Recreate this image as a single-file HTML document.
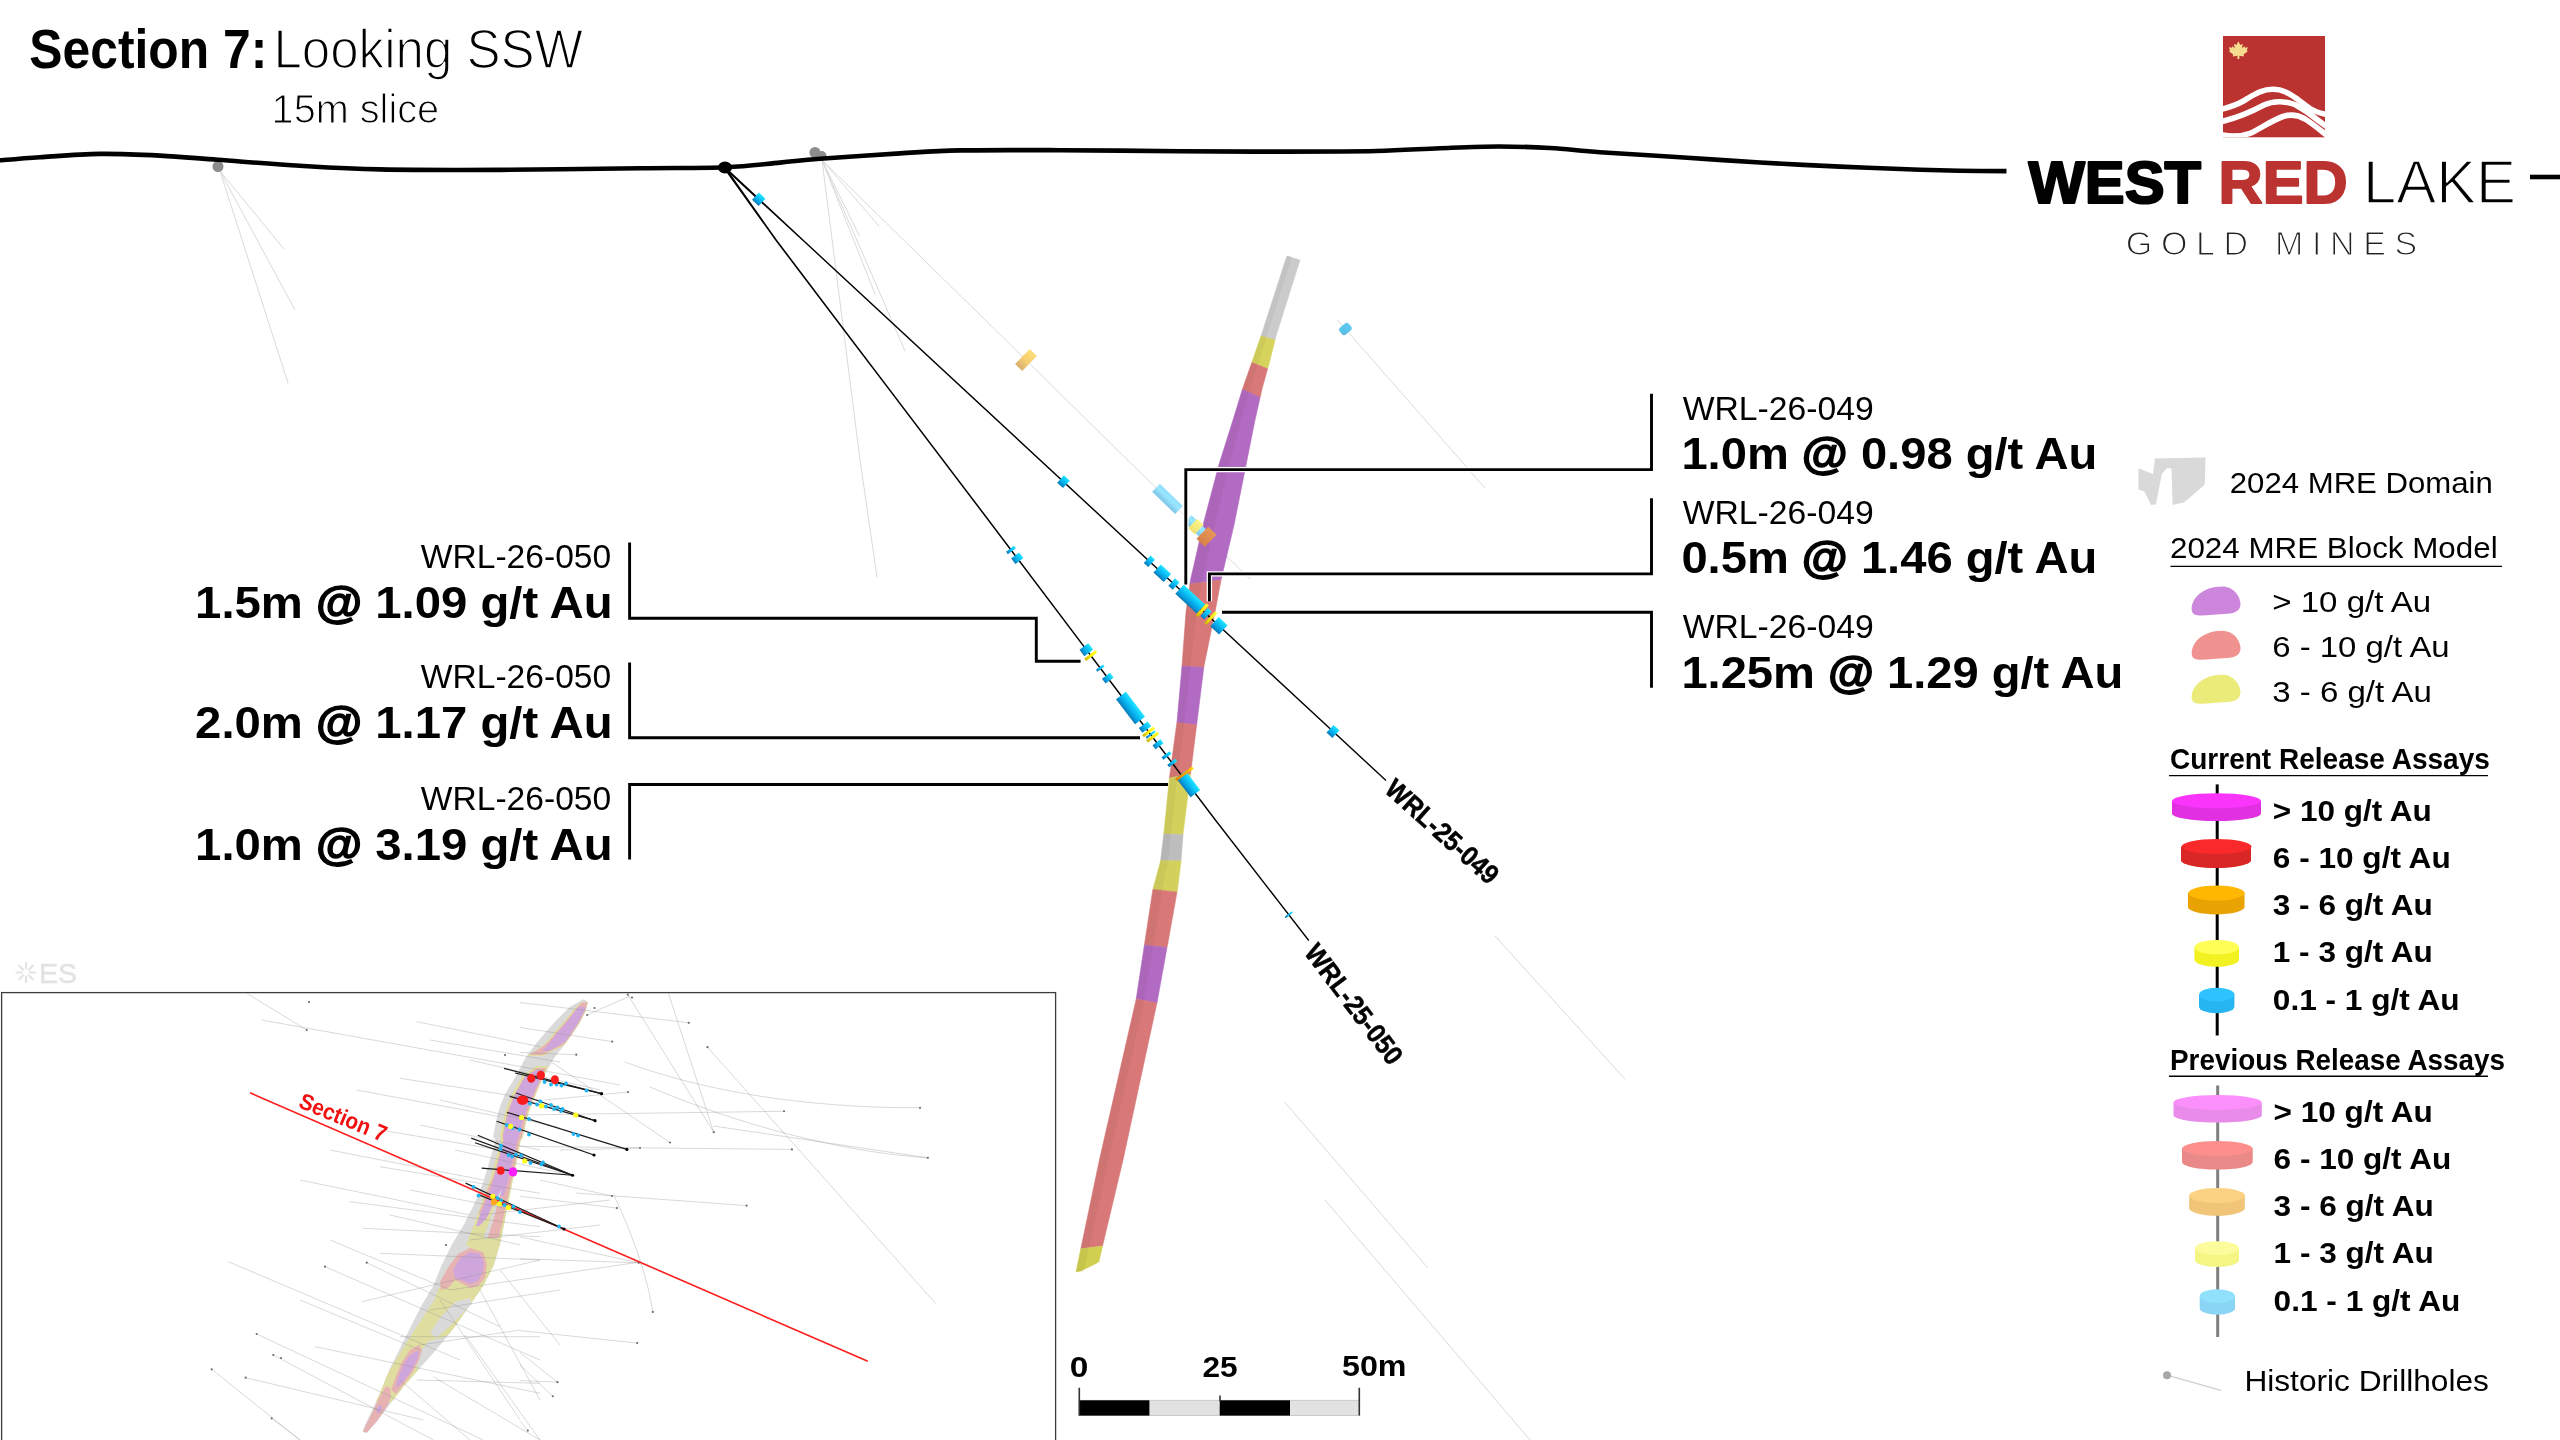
<!DOCTYPE html>
<html><head><meta charset="utf-8"><title>Section 7</title>
<style>html,body{margin:0;padding:0;background:#fff;overflow:hidden}svg{display:block;font-family:'Liberation Sans',sans-serif}</style></head><body>
<svg width="2560" height="1440" viewBox="0 0 2560 1440">
<defs>
<linearGradient id="g_blue" x1="0" y1="0" x2="0" y2="1"><stop offset="0" stop-color="#24e4ff"/><stop offset="0.35" stop-color="#0cc6f9"/><stop offset="0.7" stop-color="#06a2e2"/><stop offset="1" stop-color="#0878b6"/></linearGradient>
<linearGradient id="g_yellow" x1="0" y1="0" x2="0" y2="1"><stop offset="0" stop-color="#ffff30"/><stop offset="0.5" stop-color="#fff000"/><stop offset="1" stop-color="#c8b400"/></linearGradient>
<linearGradient id="g_orange" x1="0" y1="0" x2="0" y2="1"><stop offset="0" stop-color="#ffe000"/><stop offset="0.25" stop-color="#ffb000"/><stop offset="1" stop-color="#e08000"/></linearGradient>
<linearGradient id="g_pblue" x1="0" y1="0" x2="0" y2="1"><stop offset="0" stop-color="#8fe0fb"/><stop offset="0.4" stop-color="#9ae6ff"/><stop offset="1" stop-color="#7cc4e6"/></linearGradient>
<linearGradient id="g_pblue2" x1="0" y1="0" x2="1" y2="1"><stop offset="0" stop-color="#62ccf2"/><stop offset="0.7" stop-color="#58c2ec"/><stop offset="1" stop-color="#6aa8c4"/></linearGradient>
<linearGradient id="g_pyellow" x1="0" y1="0" x2="0" y2="1"><stop offset="0" stop-color="#fbf58a"/><stop offset="1" stop-color="#f0e070"/></linearGradient>
<linearGradient id="g_porange" x1="0" y1="0" x2="0" y2="1"><stop offset="0" stop-color="#e89858"/><stop offset="1" stop-color="#d88048"/></linearGradient>
<linearGradient id="g_pgold" x1="0" y1="0" x2="0" y2="1"><stop offset="0" stop-color="#fbe07a"/><stop offset="0.5" stop-color="#f6cf70"/><stop offset="1" stop-color="#d8b070"/></linearGradient>
<clipPath id="logoclip"><rect x="2223" y="36" width="102" height="101.3"/></clipPath>
<clipPath id="insetclip"><rect x="2" y="993" width="1053" height="447"/></clipPath>
</defs>
<rect width="2560" height="1440" fill="#fff"/>
<g style="opacity:0.9999">
<g id="historic" stroke="#d8d8d8" stroke-width="0.95" fill="none" stroke-linecap="round">
<path d="M220 171L284 249"/>
<path d="M220 171L295 310"/>
<path d="M220 171L288 383"/>
<path d="M822 160L879 226"/>
<path d="M822 160L859.5 236"/>
<path d="M822 160L875 294"/>
<path d="M822 160L905 351"/>
<path d="M822 160L860 460"/>
<path d="M860 460L877 577"/>
<path d="M822 160L1026 360"/>
<path d="M1026 360L1127.5 460"/>
<path d="M1127.5 460L1250 579"/>
<path d="M1337.5 320L1485 488"/>
<path d="M1495 936L1625 1079"/>
<path d="M1285 1102.5L1427.5 1267.5"/>
<path d="M1325 1200L1530 1440"/>
</g>
<circle cx="218" cy="166.5" r="5.5" fill="#8c8c8c"/>
<circle cx="815" cy="152.5" r="5.5" fill="#8c8c8c"/><circle cx="821.5" cy="156" r="5" fill="#8c8c8c"/>
<path id="surface" d="M-4 160.6 C3.3 160.03,22.7 158.32,40 157.2 C57.3 156.08,80.0 154.17,100 153.9 C120.0 153.63,140.3 154.62,160 155.6 C179.7 156.58,194.7 158.10,218 159.8 C241.3 161.50,273.0 164.20,300 165.8 C327.0 167.40,346.7 168.72,380 169.4 C413.3 170.08,456.7 170.10,500 169.9 C543.3 169.70,602.5 168.65,640 168.2 C677.5 167.75,701.7 168.13,725 167.2 C748.3 166.27,764.2 164.00,780 162.6 C795.8 161.20,800.0 160.33,820 158.8 C840.0 157.27,876.7 154.80,900 153.4 C923.3 152.00,933.3 150.93,960 150.4 C986.7 149.87,1023.3 150.07,1060 150.2 C1096.7 150.33,1143.3 150.97,1180 151.2 C1216.7 151.43,1247.3 151.63,1280 151.6 C1312.7 151.57,1349.3 151.57,1376 151 C1402.7 150.43,1419.7 148.95,1440 148.2 C1460.3 147.45,1479.7 146.53,1498 146.5 C1516.3 146.47,1533.0 147.05,1550 148 C1567.0 148.95,1578.3 150.67,1600 152.2 C1621.7 153.73,1653.3 155.48,1680 157.2 C1706.7 158.92,1733.3 160.93,1760 162.5 C1786.7 164.07,1813.3 165.38,1840 166.6 C1866.7 167.82,1900.0 169.10,1920 169.8 C1940.0 170.50,1945.6 170.58,1960 170.8 C1974.4 171.02,1998.8 171.05,2006.5 171.1" fill="none" stroke="#000" stroke-width="4.6" stroke-linecap="butt"/>
<path d="M2530 177 L2562 177" stroke="#000" stroke-width="4.6"/>
<g id="orebody">
<polygon fill="#cbcbcb" stroke="#cbcbcb" stroke-width="0.6" stroke-linejoin="round" points="1287.0,256.0 1300.0,260.0 1276.0,336.0 1275.0,340.0 1261.0,336.0 1285.5,260.0"/>
<polygon fill="#d5d35c" stroke="#d5d35c" stroke-width="0.6" stroke-linejoin="round" points="1261.0,336.0 1275.0,340.0 1269.5,362.0 1267.6,368.8 1251.8,362.5 1252.0,362.0"/>
<polygon fill="#d97878" stroke="#d97878" stroke-width="0.6" stroke-linejoin="round" points="1251.8,362.5 1267.6,368.8 1262.0,389.0 1260.1,397.5 1242.4,389.4 1242.5,389.0"/>
<polygon fill="#b26bc2" stroke="#b26bc2" stroke-width="0.6" stroke-linejoin="round" points="1242.4,389.4 1260.1,397.5 1255.0,420.0 1246.0,465.0 1234.0,525.0 1221.0,580.0 1189.9,584.0 1190.5,580.0 1203.0,525.0 1218.8,465.0 1233.0,420.0"/>
<polygon fill="#d97878" stroke="#d97878" stroke-width="0.6" stroke-linejoin="round" points="1189.9,584.0 1221.0,580.0 1215.0,612.0 1204.0,666.0 1203.8,667.5 1182.0,666.0 1186.0,612.0"/>
<polygon fill="#b26bc2" stroke="#b26bc2" stroke-width="0.6" stroke-linejoin="round" points="1182.0,666.0 1203.8,667.5 1197.0,722.0 1196.6,725.0 1176.9,722.5 1177.0,722.0"/>
<polygon fill="#d97878" stroke="#d97878" stroke-width="0.6" stroke-linejoin="round" points="1176.9,722.5 1196.6,725.0 1190.5,774.0 1169.4,778.0"/>
<polygon fill="#d3d15c" stroke="#d3d15c" stroke-width="0.6" stroke-linejoin="round" points="1169.4,778.0 1190.5,774.0 1190.0,778.0 1183.0,834.0 1183.0,834.5 1163.8,834.0"/>
<polygon fill="#bdbdbd" stroke="#bdbdbd" stroke-width="0.6" stroke-linejoin="round" points="1163.8,834.0 1183.0,834.5 1181.0,861.0 1160.6,860.6"/>
<polygon fill="#d3d15c" stroke="#d3d15c" stroke-width="0.6" stroke-linejoin="round" points="1160.6,860.6 1181.0,861.0 1177.5,889.0 1177.0,892.0 1152.9,889.4 1153.0,889.0 1160.6,861.0"/>
<polygon fill="#d97878" stroke="#d97878" stroke-width="0.6" stroke-linejoin="round" points="1152.9,889.4 1177.0,892.0 1167.5,945.0 1167.0,947.5 1144.4,945.0"/>
<polygon fill="#b26bc2" stroke="#b26bc2" stroke-width="0.6" stroke-linejoin="round" points="1144.4,945.0 1167.0,947.5 1157.5,1000.0 1156.9,1003.0 1136.2,999.0"/>
<polygon fill="#d97878" stroke="#d97878" stroke-width="0.6" stroke-linejoin="round" points="1136.2,999.0 1156.9,1003.0 1123.0,1160.0 1102.5,1246.0 1080.8,1248.8 1081.0,1248.0 1099.4,1160.0 1136.0,1000.0"/>
<polygon fill="#d0cf50" stroke="#d0cf50" stroke-width="0.6" stroke-linejoin="round" points="1080.8,1248.8 1102.5,1246.0 1098.8,1262.0 1081.0,1271.0 1076.0,1272.0"/>
<polygon fill="#000" opacity="0.04" points="1287.0,256.0 1285.5,260.0 1261.0,336.0 1252.0,362.0 1242.5,389.0 1233.0,420.0 1218.8,465.0 1203.0,525.0 1190.5,580.0 1186.0,612.0 1182.0,666.0 1177.0,722.0 1169.4,778.0 1163.8,834.0 1160.6,861.0 1153.0,889.0 1144.4,945.0 1136.0,1000.0 1099.4,1160.0 1081.0,1248.0 1076.0,1272.0 1081.0,1271.0 1083.6,1272.0 1089.0,1248.0 1108.4,1160.0 1144.2,1000.0 1153.2,945.0 1162.3,889.0 1168.4,861.0 1171.1,834.0 1177.2,778.0 1184.6,722.0 1190.4,666.0 1197.0,612.0 1202.1,580.0 1214.8,525.0 1229.1,465.0 1241.4,420.0 1249.9,389.0 1258.7,362.0 1266.7,336.0 1291.0,260.0 1291.2,256.0"/>
</g>
<rect x="-5.00" y="-10.50" width="10" height="21" rx="0" fill="url(#g_pgold)" opacity="1" transform="translate(1026.00,360.00) rotate(44.43)"/>
<rect x="-16.00" y="-5.50" width="32" height="11" rx="0" fill="url(#g_pblue)" opacity="1" transform="translate(1167.50,498.86) rotate(44.17)"/>
<rect x="-3.50" y="-5.00" width="7" height="10" rx="0" fill="url(#g_pblue)" opacity="1" transform="translate(1190.50,521.20) rotate(44.17)"/>
<rect x="-4.50" y="-6.50" width="9" height="13" rx="0" fill="url(#g_pyellow)" opacity="1" transform="translate(1196.00,526.54) rotate(44.17)"/>
<rect x="-2.50" y="-5.00" width="5" height="10" rx="0" fill="url(#g_pblue)" opacity="1" transform="translate(1201.00,531.40) rotate(44.17)"/>
<rect x="-5.75" y="-8.50" width="11.5" height="17" rx="0" fill="url(#g_porange)" opacity="1" transform="translate(1206.50,536.74) rotate(44.17)"/>
<rect x="-4.50" y="-6.00" width="9" height="12" rx="3" fill="url(#g_pblue2)" opacity="1" transform="translate(1345.40,329.00) rotate(48.72)"/>
<g id="holes">
<polygon fill="#000" points="723.72,168.34 764.20,205.58 804.68,242.82 1385.52,781.11 1386.48,780.09 805.69,241.72 765.49,204.19 725.28,166.66"/>
<polygon fill="#000" points="723.56,168.17 775.33,240.49 849.41,338.15 987.42,519.94 1093.18,659.93 1214.44,819.93 1308.20,940.93 1309.30,940.07 1215.56,819.07 1094.32,659.07 988.58,519.06 850.59,337.25 776.67,239.51 725.44,166.83"/>
</g>
<ellipse cx="725" cy="167.5" rx="7" ry="6" fill="#000"/>
<rect x="-4.50" y="-5.00" width="9" height="10" rx="0" fill="url(#g_blue)" opacity="1" transform="translate(758.75,199.24) rotate(42.83)"/>
<rect x="-4.00" y="-5.00" width="8" height="10" rx="0" fill="url(#g_blue)" opacity="1" transform="translate(1063.50,481.70) rotate(42.83)"/>
<rect x="-3.00" y="-5.00" width="6" height="10" rx="0" fill="url(#g_blue)" opacity="1" transform="translate(1149.40,561.31) rotate(42.83)"/>
<rect x="-7.00" y="-5.50" width="14" height="11" rx="0" fill="url(#g_blue)" opacity="1" transform="translate(1162.30,573.27) rotate(42.83)"/>
<rect x="-3.00" y="-5.00" width="6" height="10" rx="0" fill="url(#g_blue)" opacity="1" transform="translate(1173.90,584.02) rotate(42.83)"/>
<rect x="-14.50" y="-6.25" width="29" height="12.5" rx="0" fill="url(#g_blue)" opacity="1" transform="translate(1190.20,599.13) rotate(42.83)"/>
<rect x="-1.50" y="-8.00" width="3" height="16" rx="0" fill="url(#g_yellow)" opacity="1" transform="translate(1202.20,610.25) rotate(42.83)"/>
<rect x="-2.50" y="-5.50" width="5" height="11" rx="0" fill="url(#g_blue)" opacity="1" transform="translate(1206.00,613.77) rotate(42.83)"/>
<rect x="-1.50" y="-8.00" width="3" height="16" rx="0" fill="url(#g_yellow)" opacity="1" transform="translate(1210.80,618.22) rotate(42.83)"/>
<rect x="-6.00" y="-6.25" width="12" height="12.5" rx="0" fill="url(#g_blue)" opacity="1" transform="translate(1218.90,625.73) rotate(42.83)"/>
<rect x="-4.00" y="-5.25" width="8" height="10.5" rx="0" fill="url(#g_blue)" opacity="1" transform="translate(1333.00,731.48) rotate(42.83)"/>
<rect x="-1.50" y="-5.00" width="3" height="10" rx="0" fill="url(#g_blue)" opacity="1" transform="translate(1011.00,549.95) rotate(52.93)"/>
<rect x="-3.50" y="-5.00" width="7" height="10" rx="0" fill="url(#g_blue)" opacity="1" transform="translate(1017.30,558.29) rotate(52.93)"/>
<rect x="-4.00" y="-5.50" width="8" height="11" rx="0" fill="url(#g_blue)" opacity="1" transform="translate(1086.30,649.64) rotate(52.93)"/>
<rect x="-1.50" y="-7.00" width="3" height="14" rx="0" fill="url(#g_yellow)" opacity="1" transform="translate(1090.80,655.59) rotate(52.93)"/>
<rect x="-1.25" y="-4.50" width="2.5" height="9" rx="0" fill="url(#g_blue)" opacity="1" transform="translate(1100.30,668.14) rotate(52.84)"/>
<rect x="-3.00" y="-5.00" width="6" height="10" rx="0" fill="url(#g_blue)" opacity="1" transform="translate(1107.80,678.04) rotate(52.84)"/>
<rect x="-15.75" y="-6.25" width="31.5" height="12.5" rx="0" fill="url(#g_blue)" opacity="1" transform="translate(1130.50,707.99) rotate(52.84)"/>
<rect x="-3.00" y="-5.50" width="6" height="11" rx="0" fill="url(#g_blue)" opacity="1" transform="translate(1145.00,727.13) rotate(52.84)"/>
<rect x="-1.50" y="-7.00" width="3" height="14" rx="0" fill="url(#g_yellow)" opacity="1" transform="translate(1148.60,731.88) rotate(52.84)"/>
<rect x="-1.00" y="-5.50" width="2" height="11" rx="0" fill="url(#g_blue)" opacity="1" transform="translate(1150.60,734.52) rotate(52.84)"/>
<rect x="-1.50" y="-7.00" width="3" height="14" rx="0" fill="url(#g_yellow)" opacity="1" transform="translate(1152.60,737.16) rotate(52.84)"/>
<rect x="-2.50" y="-5.00" width="5" height="10" rx="0" fill="url(#g_blue)" opacity="1" transform="translate(1158.00,744.28) rotate(52.84)"/>
<rect x="-1.60" y="-5.00" width="3.2" height="10" rx="0" fill="url(#g_blue)" opacity="1" transform="translate(1166.50,755.50) rotate(52.84)"/>
<rect x="-1.60" y="-5.00" width="3.2" height="10" rx="0" fill="url(#g_blue)" opacity="1" transform="translate(1172.20,763.02) rotate(52.84)"/>
<rect x="-1.00" y="-5.00" width="2" height="10" rx="0" fill="url(#g_blue)" opacity="1" transform="translate(1181.50,775.29) rotate(52.84)"/>
<rect x="-12.00" y="-6.00" width="24" height="12" rx="0" fill="url(#g_blue)" opacity="1" transform="translate(1188.20,784.14) rotate(52.84)"/>
<rect x="-0.90" y="-4.50" width="1.8" height="9" rx="0" fill="url(#g_blue)" opacity="1" transform="translate(1288.75,914.69) rotate(52.23)"/>
<rect x="-1.4" y="-10.5" width="2.8" height="21" fill="url(#g_orange)" transform="translate(1184.5,773.75) rotate(53.5)"/>
<g id="callouts" fill="none" stroke-linejoin="miter" stroke-linecap="butt">
<path d="M1651.5 393.8 V469.6 H1185.8 V584.5" stroke="#fff" stroke-width="5.4"/>
<path d="M1651.5 498.2 V573.9 H1209.4 V601.2" stroke="#fff" stroke-width="5.4"/>
<path d="M1651.5 687.8 V612.3 H1222" stroke="#fff" stroke-width="5.4"/>
<path d="M629.6 542.5 V618.3 H1036.3 V661.3 H1080.6" stroke="#fff" stroke-width="5.4"/>
<path d="M629.6 662.5 V737.8 H1140" stroke="#fff" stroke-width="5.4"/>
<path d="M629.6 859.4 V784.5 H1168" stroke="#fff" stroke-width="5.4"/>
<path d="M1651.5 393.8 V469.6 H1185.8 V584.5" stroke="#000" stroke-width="2.9"/>
<path d="M1651.5 498.2 V573.9 H1209.4 V601.2" stroke="#000" stroke-width="2.9"/>
<path d="M1651.5 687.8 V612.3 H1222" stroke="#000" stroke-width="2.9"/>
<path d="M629.6 542.5 V618.3 H1036.3 V661.3 H1080.6" stroke="#000" stroke-width="2.9"/>
<path d="M629.6 662.5 V737.8 H1140" stroke="#000" stroke-width="2.9"/>
<path d="M629.6 859.4 V784.5 H1168" stroke="#000" stroke-width="2.9"/>
</g>
<text x="611.2" y="568.4" font-size="33" font-weight="normal" fill="#000" text-anchor="end" textLength="190.4" lengthAdjust="spacingAndGlyphs" >WRL-26-050</text>
<text x="612.6" y="617.9" font-size="45" font-weight="bold" fill="#000" text-anchor="end" textLength="417.5" lengthAdjust="spacingAndGlyphs" >1.5m <tspan stroke="#000" stroke-width="1.5">@</tspan> 1.09 g/t Au</text>
<text x="611.2" y="687.8" font-size="33" font-weight="normal" fill="#000" text-anchor="end" textLength="190.4" lengthAdjust="spacingAndGlyphs" >WRL-26-050</text>
<text x="612.6" y="737.5" font-size="45" font-weight="bold" fill="#000" text-anchor="end" textLength="417.5" lengthAdjust="spacingAndGlyphs" >2.0m <tspan stroke="#000" stroke-width="1.5">@</tspan> 1.17 g/t Au</text>
<text x="611.2" y="810.2" font-size="33" font-weight="normal" fill="#000" text-anchor="end" textLength="190.4" lengthAdjust="spacingAndGlyphs" >WRL-26-050</text>
<text x="612.6" y="859.7" font-size="45" font-weight="bold" fill="#000" text-anchor="end" textLength="417.5" lengthAdjust="spacingAndGlyphs" >1.0m <tspan stroke="#000" stroke-width="1.5">@</tspan> 3.19 g/t Au</text>
<text x="1682.7" y="420.4" font-size="33" font-weight="normal" fill="#000" text-anchor="start" textLength="191" lengthAdjust="spacingAndGlyphs" >WRL-26-049</text>
<text x="1681.4" y="468.9" font-size="45" font-weight="bold" fill="#000" text-anchor="start" textLength="416" lengthAdjust="spacingAndGlyphs" >1.0m <tspan stroke="#000" stroke-width="1.5">@</tspan> 0.98 g/t Au</text>
<text x="1682.7" y="524.4" font-size="33" font-weight="normal" fill="#000" text-anchor="start" textLength="191" lengthAdjust="spacingAndGlyphs" >WRL-26-049</text>
<text x="1681.4" y="573.3" font-size="45" font-weight="bold" fill="#000" text-anchor="start" textLength="416" lengthAdjust="spacingAndGlyphs" >0.5m <tspan stroke="#000" stroke-width="1.5">@</tspan> 1.46 g/t Au</text>
<text x="1682.7" y="638.4" font-size="33" font-weight="normal" fill="#000" text-anchor="start" textLength="191" lengthAdjust="spacingAndGlyphs" >WRL-26-049</text>
<text x="1681.4" y="688.4" font-size="45" font-weight="bold" fill="#000" text-anchor="start" textLength="442" lengthAdjust="spacingAndGlyphs" >1.25m <tspan stroke="#000" stroke-width="1.5">@</tspan> 1.29 g/t Au</text>
<text font-size="27.2" font-weight="bold" stroke="#000" stroke-width="0.5" textLength="141.5" lengthAdjust="spacingAndGlyphs" transform="translate(1383.3,791.3) rotate(41.9)">WRL-25-049</text>
<text font-size="27.2" font-weight="bold" stroke="#000" stroke-width="0.5" textLength="143" lengthAdjust="spacingAndGlyphs" transform="translate(1303.3,952.8) rotate(52.8)">WRL-25-050</text>
<text x="29.3" y="67.5" font-size="56" font-weight="bold" fill="#000" text-anchor="start" textLength="238" lengthAdjust="spacingAndGlyphs" >Section 7:</text>
<text x="273.4" y="67.5" font-size="56" font-weight="normal" fill="#000" text-anchor="start" textLength="309.5" lengthAdjust="spacingAndGlyphs" stroke="#fff" stroke-width="1.6" stroke-linejoin="round" >Looking SSW</text>
<text x="271.6" y="123.4" font-size="41.5" font-weight="normal" fill="#000" text-anchor="start" textLength="167.5" lengthAdjust="spacingAndGlyphs" stroke="#fff" stroke-width="1.1" stroke-linejoin="round" >15m slice</text>
<g id="logo">
<rect x="2223" y="36" width="102" height="101.3" fill="#bb3330"/>
<g clip-path="url(#logoclip)"><g fill="none" stroke="#fff" stroke-width="5.6" transform="translate(2223,36)">
<path d="M-3 73.6 C 8 71, 16 67.5, 20.4 65 C 27 61, 32 58, 37 55.8 C 42 53.8, 46 53.2, 50.4 53.3 C 55 53.4, 59 54.4, 62 55.8 C 67 58, 71 60.8, 74.6 63.3 C 79 66.5, 83 69.8, 87 72.5 C 92 75.7, 97 77.5, 106 79"/>
<path d="M-3 86 C 14 82, 28 76, 41 69 C 50 65, 62 64.5, 72 68.5 C 82 74, 90 80, 96 85 C 100 88, 103 90, 106 92"/>
<path d="M-3 98.5 C 6 100.5, 16 101.5, 28 97 C 38 92, 50 84, 60 80.5 C 68 78, 76 79.5, 82 83 C 90 88, 97 94, 106 101"/>
</g></g>
<path fill="#f6dc8e" transform="translate(2238.4,50.8) scale(0.95)" d="M0 -10 L2 -6.2 L4.6 -7.4 L3.8 -2.6 L6.4 -4.8 L7 -3.2 L10 -3.8 L8.8 -0.4 L10 0.4 L5.4 4 L6 6 L1 5.2 L1 8.6 L-1 8.6 L-1 5.2 L-6 6 L-5.4 4 L-10 0.4 L-8.8 -0.4 L-10 -3.8 L-7 -3.2 L-6.4 -4.8 L-3.8 -2.6 L-4.6 -7.4 L-2 -6.2 Z"/>
<text x="2028.5" y="203.3" font-size="59.4" font-weight="bold" fill="#000" text-anchor="start" textLength="172.5" lengthAdjust="spacingAndGlyphs" stroke="#000" stroke-width="2.2" stroke-linejoin="round">WEST</text>
<text x="2218.6" y="203.3" font-size="59.4" font-weight="bold" fill="#bb3330" text-anchor="start" textLength="129" lengthAdjust="spacingAndGlyphs" stroke="#bb3330" stroke-width="2" stroke-linejoin="round">RED</text>
<text x="2363" y="203.3" font-size="60.5" font-weight="normal" fill="#000" text-anchor="start" textLength="153" lengthAdjust="spacingAndGlyphs" stroke="#fff" stroke-width="1.6" stroke-linejoin="round" >LAKE</text>
<text x="2125.8" y="254.6" font-size="34" fill="#222" textLength="291.5" lengthAdjust="spacing" stroke="#fff" stroke-width="1.2">GOLD MINES</text>
</g>
<g id="legend">
<polygon fill="#d9d9d9" points="2138.5,468.2 2153,474 2155,458.5 2205.6,457.5 2204.6,484.7 2195.8,492.5 2184.2,502.2 2172.5,505.1 2171.5,468.2 2166.7,468.2 2161.8,474 2156,504.2 2151.1,505.1 2144.3,491.5 2138.5,489.6"/>
<text x="2229.8" y="493.2" font-size="30.4" font-weight="normal" fill="#000" text-anchor="start" textLength="263" lengthAdjust="spacingAndGlyphs" >2024 MRE Domain</text>
<text x="2170" y="557.6" font-size="30.4" font-weight="normal" fill="#000" text-anchor="start" textLength="327.6" lengthAdjust="spacingAndGlyphs" >2024 MRE Block Model</text>
<path d="M2170.5 566.4 H2502" stroke="#000" stroke-width="1.4"/>
<path fill="#cc87dd" transform="translate(2216.2,601)" d="M-24.5 8.5 C -25 -2, -14 -14.5, 6 -14.5 C 18 -14.5, 24.5 -4, 24.3 3.5 C 24 9.5, 19 12.5, 11 12.8 C 0 13.4, -10 14.8, -17 14.5 C -22 14.3, -24.4 12, -24.5 8.5 Z"/>
<path fill="#f09390" transform="translate(2216.2,645.3)" d="M-24.5 8.5 C -25 -2, -14 -14.5, 6 -14.5 C 18 -14.5, 24.5 -4, 24.3 3.5 C 24 9.5, 19 12.5, 11 12.8 C 0 13.4, -10 14.8, -17 14.5 C -22 14.3, -24.4 12, -24.5 8.5 Z"/>
<path fill="#ebeb7a" transform="translate(2216.2,689.3)" d="M-24.5 8.5 C -25 -2, -14 -14.5, 6 -14.5 C 18 -14.5, 24.5 -4, 24.3 3.5 C 24 9.5, 19 12.5, 11 12.8 C 0 13.4, -10 14.8, -17 14.5 C -22 14.3, -24.4 12, -24.5 8.5 Z"/>
<text x="2272.2" y="612.2" font-size="30.4" font-weight="normal" fill="#000" text-anchor="start" textLength="159" lengthAdjust="spacingAndGlyphs" >&gt; 10 g/t Au</text>
<text x="2272.2" y="657" font-size="30.4" font-weight="normal" fill="#000" text-anchor="start" textLength="177.5" lengthAdjust="spacingAndGlyphs" >6 - 10 g/t Au</text>
<text x="2272.2" y="701.7" font-size="30.4" font-weight="normal" fill="#000" text-anchor="start" textLength="159.8" lengthAdjust="spacingAndGlyphs" >3 - 6 g/t Au</text>
<text x="2170" y="768.9" font-size="29.8" font-weight="bold" fill="#000" text-anchor="start" textLength="319.8" lengthAdjust="spacingAndGlyphs" >Current Release Assays</text>
<path d="M2169 775.6 H2488" stroke="#000" stroke-width="1.4"/>
<path d="M2217.2 784.4 V1035.5" stroke="#000" stroke-width="3"/>
<path fill="#e030e2" d="M2172 800.779 V813.521 A44.5 7.4790000000000125 0 0 0 2261 813.521 V800.779 Z"/>
<ellipse cx="2216.5" cy="800.779" rx="44.5" ry="7.4790000000000125" fill="#fa34fa"/>
<path fill="#d92626" d="M2181 846.5 V860.5 A35.0 7.5 0 0 0 2251 860.5 V846.5 Z"/>
<ellipse cx="2216.5" cy="846.5" rx="35.0" ry="7.5" fill="#fa2a2a"/>
<path fill="#e8a200" d="M2188 893.0 V906.9 A28.25 7.5 0 0 0 2244.5 906.9 V893.0 Z"/>
<ellipse cx="2216.5" cy="893.0" rx="28.25" ry="7.5" fill="#ffb700"/>
<path fill="#f2f222" d="M2194.4 947.2090000000001 V959.491 A22.299999999999955 7.209000000000013 0 0 0 2239 959.491 V947.2090000000001 Z"/>
<ellipse cx="2216.8" cy="947.2090000000001" rx="22.299999999999955" ry="7.209000000000013" fill="#ffff58"/>
<path fill="#27b5f1" d="M2199 994.685 V1006.415 A17.700000000000045 6.885000000000001 0 0 0 2234.4 1006.415 V994.685 Z"/>
<ellipse cx="2216.8" cy="994.685" rx="17.700000000000045" ry="6.885000000000001" fill="#2ec3ff"/>
<text x="2272.8" y="821" font-size="29.8" font-weight="bold" fill="#000" text-anchor="start" textLength="159" lengthAdjust="spacingAndGlyphs" >&gt; 10 g/t Au</text>
<text x="2272.8" y="867.8" font-size="29.8" font-weight="bold" fill="#000" text-anchor="start" textLength="177.9" lengthAdjust="spacingAndGlyphs" >6 - 10 g/t Au</text>
<text x="2272.8" y="914.9" font-size="29.8" font-weight="bold" fill="#000" text-anchor="start" textLength="160.1" lengthAdjust="spacingAndGlyphs" >3 - 6 g/t Au</text>
<text x="2272.8" y="962.2" font-size="29.8" font-weight="bold" fill="#000" text-anchor="start" textLength="160.1" lengthAdjust="spacingAndGlyphs" >1 - 3 g/t Au</text>
<text x="2272.8" y="1009.6" font-size="29.8" font-weight="bold" fill="#000" text-anchor="start" textLength="186.8" lengthAdjust="spacingAndGlyphs" >0.1 - 1 g/t Au</text>
<text x="2170" y="1069.9" font-size="29.8" font-weight="bold" fill="#000" text-anchor="start" textLength="335" lengthAdjust="spacingAndGlyphs" >Previous Release Assays</text>
<path d="M2169 1076.2 H2488" stroke="#000" stroke-width="1.4"/>
<path d="M2217.7 1085.5 V1337" stroke="#7f7f7f" stroke-width="3"/>
<path fill="#e98ce9" d="M2173.5 1102.452 V1115.148 A44.15000000000009 7.451999999999976 0 0 0 2261.8 1115.148 V1102.452 Z"/>
<ellipse cx="2217.6" cy="1102.452" rx="44.15000000000009" ry="7.451999999999976" fill="#fb8ffb"/>
<path fill="#e98a88" d="M2182 1148.5 V1162.1 A35.34999999999991 7.5 0 0 0 2252.7 1162.1 V1148.5 Z"/>
<ellipse cx="2217.4" cy="1148.5" rx="35.34999999999991" ry="7.5" fill="#fc8e8c"/>
<path fill="#f0c577" d="M2189.2 1195.479 V1208.221 A27.800000000000182 7.4790000000000125 0 0 0 2244.8 1208.221 V1195.479 Z"/>
<ellipse cx="2217" cy="1195.479" rx="27.800000000000182" ry="7.4790000000000125" fill="#fbd283"/>
<path fill="#f5f583" d="M2195 1248.239 V1260.061 A22.0 6.9390000000000125 0 0 0 2239 1260.061 V1248.239 Z"/>
<ellipse cx="2217" cy="1248.239" rx="22.0" ry="6.9390000000000125" fill="#fcfc9c"/>
<path fill="#8ad5f5" d="M2199.7 1296.112 V1307.888 A17.65000000000009 6.911999999999976 0 0 0 2235 1307.888 V1296.112 Z"/>
<ellipse cx="2217.3" cy="1296.112" rx="17.65000000000009" ry="6.911999999999976" fill="#92e1fc"/>
<text x="2273.6" y="1121.7" font-size="29.8" font-weight="bold" fill="#000" text-anchor="start" textLength="159.2" lengthAdjust="spacingAndGlyphs" >&gt; 10 g/t Au</text>
<text x="2273.6" y="1168.7" font-size="29.8" font-weight="bold" fill="#000" text-anchor="start" textLength="177.7" lengthAdjust="spacingAndGlyphs" >6 - 10 g/t Au</text>
<text x="2273.6" y="1215.7" font-size="29.8" font-weight="bold" fill="#000" text-anchor="start" textLength="160.1" lengthAdjust="spacingAndGlyphs" >3 - 6 g/t Au</text>
<text x="2273.6" y="1263" font-size="29.8" font-weight="bold" fill="#000" text-anchor="start" textLength="160.1" lengthAdjust="spacingAndGlyphs" >1 - 3 g/t Au</text>
<text x="2273.6" y="1310.5" font-size="29.8" font-weight="bold" fill="#000" text-anchor="start" textLength="186.8" lengthAdjust="spacingAndGlyphs" >0.1 - 1 g/t Au</text>
<path d="M2167 1375.2 L2221 1390.3" stroke="#cfcfcf" stroke-width="1.2"/><circle cx="2167" cy="1375.2" r="4" fill="#a8a8a8"/>
<text x="2244.4" y="1391.4" font-size="30.4" font-weight="normal" fill="#000" text-anchor="start" textLength="244.5" lengthAdjust="spacingAndGlyphs" >Historic Drillholes</text>
</g>
<g id="scale">
<rect x="1079" y="1400.3" width="280.5" height="15.3" fill="#e2e2e2" stroke="#c4c4c4" stroke-width="0.8"/>
<rect x="1079" y="1400.3" width="70.4" height="15.3" fill="#000"/><rect x="1219.7" y="1400.3" width="70.3" height="15.3" fill="#000"/>
<path d="M1079.3 1387.8 V1415.6 M1220 1395.6 V1401 M1359.3 1387.8 V1415.6" stroke="#333" stroke-width="1.6"/>
<text x="1069.8" y="1377" font-size="29.5" font-weight="bold" fill="#000" text-anchor="start" textLength="18.6" lengthAdjust="spacingAndGlyphs" >0</text>
<text x="1202.5" y="1377" font-size="29.5" font-weight="bold" fill="#000" text-anchor="start" textLength="35.2" lengthAdjust="spacingAndGlyphs" >25</text>
<text x="1342" y="1375.6" font-size="29.5" font-weight="bold" fill="#000" text-anchor="start" textLength="64.5" lengthAdjust="spacingAndGlyphs" >50m</text>
</g>
<g id="inset">
<rect x="1.6" y="992.6" width="1054" height="460" fill="#fff" stroke="#3c3c3c" stroke-width="1.3"/>
<g clip-path="url(#insetclip)">
<g fill="#6a6a6a"><circle cx="306.7" cy="1030" r="1.1"/><circle cx="309" cy="1002" r="1.1"/><circle cx="688.75" cy="1022.8" r="1.1"/><circle cx="612.2" cy="1041.6" r="1.1"/><circle cx="576.25" cy="1054.7" r="1.1"/><circle cx="594.5" cy="1008" r="1.1"/><circle cx="587.2" cy="1015" r="1.1"/><circle cx="920" cy="1107.8" r="1.1"/><circle cx="927.8" cy="1157.8" r="1.1"/><circle cx="707.5" cy="1047.2" r="1.1"/><circle cx="713.75" cy="1132.2" r="1.1"/><circle cx="784" cy="1111.25" r="1.1"/><circle cx="791.9" cy="1149.4" r="1.1"/><circle cx="746.6" cy="1205.6" r="1.1"/><circle cx="616.9" cy="1208.1" r="1.1"/><circle cx="652.8" cy="1311.9" r="1.1"/><circle cx="638.75" cy="1262.8" r="1.1"/><circle cx="637.2" cy="1343.1" r="1.1"/><circle cx="557.5" cy="1382.2" r="1.1"/><circle cx="552.8" cy="1396.25" r="1.1"/><circle cx="527.8" cy="1430.6" r="1.1"/><circle cx="325" cy="1266.7" r="1.1"/><circle cx="366.7" cy="1262.7" r="1.1"/><circle cx="256.7" cy="1334" r="1.1"/><circle cx="273.3" cy="1355" r="1.1"/><circle cx="281" cy="1358" r="1.1"/><circle cx="211.7" cy="1369.3" r="1.1"/><circle cx="245.7" cy="1377.7" r="1.1"/><circle cx="271.7" cy="1418.3" r="1.1"/><circle cx="446" cy="1245" r="1.1"/><circle cx="628" cy="1092" r="1.1"/><circle cx="640" cy="1148" r="1.1"/><circle cx="612" cy="1196" r="1.1"/><circle cx="627.8" cy="994.7" r="1.1"/><circle cx="632" cy="997.5" r="1.1"/><circle cx="670" cy="1142.5" r="1.1"/><circle cx="505" cy="1055" r="1.1"/></g>
<polygon fill="#dadada" opacity="1"  points="583.8,999.2 570.2,1006.5 557.7,1019.0 546.2,1031.5 535.8,1044.0 528.5,1053.3 523.3,1061.7 517.1,1074.2 510.8,1084.6 504.6,1095.0 500.4,1105.4 497.3,1115.8 495.2,1126.2 493.1,1136.7 495.8,1140.0 489.6,1160.8 483.3,1181.7 475.0,1202.5 464.6,1223.3 452.1,1244.2 441.7,1265.0 433.3,1285.8 420.8,1306.7 410.4,1327.5 400.0,1348.3 389.6,1369.2 381.2,1390.0 372.9,1408.8 364.6,1425.4 362.5,1431.7 366.7,1432.7 377.1,1421.2 389.6,1404.6 404.2,1385.8 420.8,1367.1 437.5,1348.3 454.2,1327.5 468.8,1306.7 483.3,1285.8 493.8,1265.0 500.0,1244.2 504.2,1223.3 508.3,1202.5 512.5,1181.7 516.7,1160.8 520.8,1140.0 522.3,1138.8 524.4,1130.4 526.5,1120.0 529.6,1109.6 533.8,1099.2 539.0,1086.7 543.1,1077.3 548.3,1067.9 554.6,1057.5 562.9,1047.1 571.2,1035.6 579.6,1023.1 585.8,1010.6 587.9,1002.3"/>
<polygon fill="#dfdea0" opacity="1"  points="581.8,1002.0 578.0,1005.0 575.0,1008.0 572.8,1011.0 570.3,1014.0 567.7,1017.0 565.1,1020.0 562.7,1023.0 560.1,1026.0 557.4,1029.0 554.8,1032.0 552.3,1035.0 549.8,1038.0 547.2,1041.0 544.7,1044.0 540.9,1047.0 536.3,1050.0 531.6,1053.0 527.4,1056.0 542.8,1056.0 548.6,1053.0 554.7,1050.0 560.8,1047.0 565.2,1044.0 567.3,1041.0 569.5,1038.0 571.7,1035.0 573.7,1032.0 575.7,1029.0 577.7,1026.0 579.6,1023.0 581.1,1020.0 582.6,1017.0 584.1,1014.0 585.6,1011.0 586.5,1008.0 587.2,1005.0 587.9,1002.0"/>
<polygon fill="#e6b2b2" opacity="1"  points="582.2,1002.5 578.7,1005.6 576.1,1008.7 573.8,1011.8 571.2,1014.9 568.6,1017.9 566.1,1021.0 563.6,1024.1 560.9,1027.2 558.1,1030.3 555.5,1033.4 552.9,1036.5 550.2,1039.6 547.6,1042.6 544.0,1045.7 539.0,1048.8 534.0,1051.9 529.2,1055.0 542.0,1055.0 548.4,1051.9 554.9,1048.8 561.4,1045.7 565.3,1042.6 567.5,1039.6 569.8,1036.5 571.9,1033.4 574.0,1030.3 576.1,1027.2 578.1,1024.1 579.9,1021.0 581.5,1017.9 583.0,1014.9 584.6,1011.8 585.7,1008.7 586.6,1005.6 587.5,1002.5"/>
<polygon fill="#cfa6dc" opacity="1"  points="578.2,1007.0 576.1,1010.1 573.6,1013.3 571.1,1016.4 568.6,1019.6 566.2,1022.7 563.5,1025.9 560.8,1029.0 558.1,1032.1 555.5,1035.3 552.9,1038.4 550.2,1041.6 547.6,1044.7 544.9,1047.9 542.1,1051.0 548.6,1051.0 554.6,1047.9 560.4,1044.7 565.4,1041.6 567.7,1038.4 569.9,1035.3 572.0,1032.1 574.1,1029.0 576.2,1025.9 578.2,1022.7 579.8,1019.6 581.4,1016.4 583.1,1013.3 584.6,1010.1 585.5,1007.0"/>
<polygon fill="#dfdea0" opacity="1"  points="536.7,1066.0 532.0,1069.0 527.4,1072.0 522.7,1075.0 521.0,1078.0 519.3,1081.0 517.6,1084.0 516.0,1087.0 514.4,1090.0 512.7,1093.0 511.2,1096.0 510.0,1099.0 508.9,1102.0 507.6,1105.0 506.6,1108.0 505.7,1111.0 504.7,1114.0 503.9,1117.0 503.2,1120.0 502.6,1123.0 501.9,1126.0 501.3,1129.0 500.7,1132.0 500.0,1135.0 500.4,1138.0 501.0,1141.0 500.1,1144.0 499.3,1147.0 498.4,1150.0 497.6,1153.0 496.7,1156.0 495.9,1159.0 495.0,1162.0 494.1,1165.0 493.3,1168.0 492.4,1171.0 491.5,1174.0 490.7,1177.0 489.8,1180.0 488.8,1183.0 487.7,1186.0 486.6,1189.0 485.5,1192.0 484.4,1195.0 483.3,1198.0 482.2,1201.0 481.2,1204.0 480.1,1207.0 479.1,1210.0 478.0,1213.0 477.0,1216.0 475.9,1219.0 474.9,1222.0 473.8,1225.0 472.6,1228.0 471.4,1231.0 470.2,1234.0 469.0,1237.0 467.9,1240.0 466.7,1243.0 465.7,1246.0 499.5,1246.0 500.2,1243.0 500.8,1240.0 501.4,1237.0 502.0,1234.0 502.7,1231.0 503.3,1228.0 503.9,1225.0 504.5,1222.0 505.0,1219.0 505.6,1216.0 506.2,1213.0 506.8,1210.0 507.4,1207.0 508.0,1204.0 508.6,1201.0 509.2,1198.0 509.8,1195.0 510.4,1192.0 511.0,1189.0 511.6,1186.0 512.2,1183.0 512.8,1180.0 513.4,1177.0 514.0,1174.0 514.7,1171.0 515.3,1168.0 515.9,1165.0 516.5,1162.0 517.1,1159.0 517.6,1156.0 518.2,1153.0 518.8,1150.0 519.4,1147.0 520.0,1144.0 520.6,1141.0 522.5,1138.0 523.2,1135.0 524.0,1132.0 524.7,1129.0 525.3,1126.0 525.9,1123.0 526.5,1120.0 527.4,1117.0 528.3,1114.0 529.2,1111.0 530.2,1108.0 531.4,1105.0 532.6,1102.0 533.8,1099.0 535.1,1096.0 536.4,1093.0 537.6,1090.0 538.9,1087.0 540.2,1084.0 541.5,1081.0 542.8,1078.0 544.4,1075.0 545.8,1072.0 546.9,1069.0 548.0,1066.0"/>
<polygon fill="#e6b2b2" opacity="1"  points="537.6,1068.0 532.7,1071.0 527.9,1074.1 524.3,1077.1 522.5,1080.1 520.8,1083.2 519.2,1086.2 517.5,1089.2 515.8,1092.2 514.2,1095.3 512.9,1098.3 511.7,1101.3 510.4,1104.4 509.3,1107.4 508.3,1110.4 507.4,1113.5 506.5,1116.5 505.8,1119.5 505.2,1122.6 504.6,1125.6 503.9,1128.6 503.3,1131.7 502.6,1134.7 502.7,1137.7 503.2,1140.8 502.4,1143.8 501.6,1146.8 500.8,1149.8 499.9,1152.9 499.1,1155.9 498.3,1158.9 497.5,1162.0 496.6,1165.0 495.8,1168.0 495.0,1171.1 494.1,1174.1 493.0,1177.1 491.8,1180.2 490.4,1183.2 489.0,1186.2 487.7,1189.2 486.6,1192.3 485.6,1195.3 484.6,1198.3 483.6,1201.4 482.4,1204.4 481.1,1207.4 479.9,1210.5 478.7,1213.5 481.7,1216.5 485.0,1219.6 488.5,1222.6 488.4,1225.6 487.5,1228.7 486.6,1231.7 485.7,1234.7 484.7,1237.8 483.8,1240.8 482.9,1243.8 482.0,1246.8 481.0,1249.9 480.0,1252.9 479.1,1255.9 478.1,1259.0 477.2,1262.0 491.0,1262.0 492.1,1259.0 493.1,1255.9 494.1,1252.9 495.2,1249.9 496.2,1246.8 497.2,1243.8 497.9,1240.8 498.7,1237.8 499.4,1234.7 500.2,1231.7 500.9,1228.7 501.7,1225.6 502.4,1222.6 503.0,1219.6 503.7,1216.5 504.3,1213.5 505.0,1210.5 505.6,1207.4 506.3,1204.4 506.9,1201.4 507.6,1198.3 508.2,1195.3 508.9,1192.3 509.5,1189.2 510.2,1186.2 510.8,1183.2 511.4,1180.2 512.1,1177.1 512.7,1174.1 513.3,1171.1 514.0,1168.0 514.6,1165.0 515.2,1162.0 515.8,1158.9 516.5,1155.9 517.1,1152.9 517.7,1149.8 518.3,1146.8 518.9,1143.8 519.5,1140.8 521.3,1137.7 522.0,1134.7 522.8,1131.7 523.4,1128.6 524.1,1125.6 524.7,1122.6 525.3,1119.5 526.2,1116.5 527.2,1113.5 528.1,1110.4 529.2,1107.4 530.4,1104.4 531.6,1101.3 532.8,1098.3 534.1,1095.3 535.4,1092.2 536.7,1089.2 538.0,1086.2 539.4,1083.2 540.7,1080.1 542.1,1077.1 543.4,1074.1 544.4,1071.0 545.4,1068.0"/>
<polygon fill="#cfa6dc" opacity="1"  points="537.6,1070.0 531.8,1073.0 525.9,1076.0 523.8,1079.0 522.1,1082.0 520.5,1085.0 518.8,1088.0 517.2,1091.0 515.6,1094.0 514.2,1097.0 513.0,1100.0 511.8,1103.0 510.6,1106.0 509.6,1109.0 508.7,1112.0 507.8,1115.0 507.0,1118.0 506.4,1121.0 505.7,1124.0 505.1,1127.0 504.5,1130.0 503.9,1133.0 503.2,1136.0 504.0,1139.0 503.6,1142.0 502.8,1145.0 502.0,1148.0 501.2,1151.0 500.4,1154.0 499.6,1157.0 498.8,1160.0 498.0,1163.0 497.2,1166.0 496.4,1169.0 495.6,1172.0 494.8,1175.0 494.0,1178.0 493.2,1181.0 492.2,1184.0 491.2,1187.0 490.2,1190.0 489.2,1193.0 488.2,1196.0 503.8,1196.0 504.6,1193.0 505.4,1190.0 506.2,1187.0 506.9,1184.0 507.7,1181.0 508.4,1178.0 509.1,1175.0 509.8,1172.0 510.5,1169.0 511.2,1166.0 511.9,1163.0 512.6,1160.0 513.3,1157.0 514.0,1154.0 514.7,1151.0 515.4,1148.0 516.0,1145.0 516.7,1142.0 518.1,1139.0 518.8,1136.0 519.6,1133.0 520.4,1130.0 521.2,1127.0 521.9,1124.0 522.7,1121.0 523.6,1118.0 524.6,1115.0 525.6,1112.0 526.7,1109.0 528.0,1106.0 529.3,1103.0 530.6,1100.0 531.9,1097.0 533.3,1094.0 534.7,1091.0 536.0,1088.0 537.5,1085.0 538.9,1082.0 540.3,1079.0 541.8,1076.0 542.8,1073.0 543.8,1070.0"/>
<polygon fill="#cfa6dc" opacity="1"  points="488.2,1196.0 487.0,1199.0 485.8,1202.0 484.5,1205.0 483.1,1208.0 481.7,1211.0 480.3,1214.0 479.2,1217.0 478.2,1220.0 477.2,1223.0 476.0,1226.0 479.3,1226.0 482.1,1223.0 484.8,1220.0 487.3,1217.0 488.8,1214.0 490.2,1211.0 491.6,1208.0 493.0,1205.0 494.4,1202.0 495.6,1199.0 496.8,1196.0"/>
<polygon fill="#dadada" opacity="1"  points="501.0,1190.0 499.3,1193.0 497.7,1196.0 496.0,1199.0 494.9,1202.0 493.8,1205.0 492.6,1208.0 491.4,1211.0 490.2,1214.0 489.0,1217.0 487.7,1220.0 486.5,1223.0 485.5,1226.0 484.5,1229.0 483.5,1232.0 482.5,1235.0 481.6,1238.0 480.6,1241.0 479.6,1244.0 478.6,1247.0 477.7,1250.0 483.5,1250.0 484.6,1247.0 485.7,1244.0 486.7,1241.0 487.6,1238.0 488.6,1235.0 489.5,1232.0 490.5,1229.0 491.5,1226.0 492.4,1223.0 493.3,1220.0 494.1,1217.0 495.0,1214.0 495.9,1211.0 496.7,1208.0 497.6,1205.0 498.4,1202.0 499.2,1199.0 500.0,1196.0 500.8,1193.0 501.6,1190.0"/>
<polygon fill="#dfdea0" opacity="1"  points="494.7,1200.0 493.5,1203.1 492.1,1206.1 490.8,1209.2 489.4,1212.3 488.0,1215.3 486.6,1218.4 485.2,1221.5 483.8,1224.5 482.3,1227.6 480.7,1230.7 479.2,1233.7 477.7,1236.8 476.1,1239.9 474.5,1242.9 472.9,1246.0 480.2,1246.0 481.4,1242.9 482.5,1239.9 483.7,1236.8 484.8,1233.7 486.0,1230.7 487.1,1227.6 488.3,1224.5 489.4,1221.5 490.4,1218.4 491.4,1215.3 492.4,1212.3 493.4,1209.2 494.4,1206.1 495.4,1203.1 496.3,1200.0"/>
<polygon fill="#cfa6dc" opacity="1"  points="489.8,1246.0 489.0,1249.1 488.2,1252.3 487.5,1255.4 486.7,1258.6 485.9,1261.7 485.2,1264.9 484.0,1268.0 489.7,1268.0 491.1,1264.9 492.0,1261.7 492.9,1258.6 493.8,1255.4 494.7,1252.3 495.7,1249.1 496.6,1246.0"/>
<polygon fill="#dfdea0" opacity="1"  points="475.3,1238.0 473.4,1241.0 471.3,1244.1 469.3,1247.1 467.3,1250.1 465.3,1253.2 462.4,1256.2 458.9,1259.3 455.4,1262.3 451.8,1265.3 448.3,1268.4 445.3,1271.4 444.3,1274.4 443.3,1277.5 442.2,1280.5 441.2,1283.6 440.0,1286.6 438.4,1289.6 437.1,1292.7 435.8,1295.7 434.6,1298.7 433.4,1301.8 431.2,1304.8 429.1,1307.9 427.1,1310.9 425.1,1313.9 423.1,1317.0 421.2,1320.0 419.2,1323.0 417.3,1326.1 415.3,1329.1 413.4,1332.1 411.4,1335.2 409.5,1338.2 407.5,1341.3 405.6,1344.3 403.7,1347.3 401.8,1350.4 399.9,1353.4 398.0,1356.4 396.1,1359.5 394.3,1362.5 392.5,1365.6 390.6,1368.6 389.1,1371.6 387.6,1374.7 386.2,1377.7 385.0,1380.7 383.7,1383.8 382.5,1386.8 381.3,1389.9 380.0,1392.9 378.6,1395.9 377.3,1399.0 375.9,1402.0 391.6,1402.0 394.0,1399.0 396.3,1395.9 398.7,1392.9 401.1,1389.9 403.4,1386.8 406.0,1383.8 408.7,1380.7 411.4,1377.7 414.1,1374.7 416.8,1371.6 418.6,1368.6 416.7,1365.6 414.5,1362.5 414.4,1359.5 416.7,1356.4 419.0,1353.4 421.4,1350.4 423.7,1347.3 425.9,1344.3 428.3,1341.3 439.9,1338.2 448.0,1335.2 450.5,1332.1 452.9,1329.1 455.2,1326.1 457.3,1323.0 459.4,1320.0 461.6,1317.0 463.7,1313.9 465.8,1310.9 467.9,1307.9 470.1,1304.8 472.2,1301.8 474.3,1298.7 476.4,1295.7 478.5,1292.7 480.6,1289.6 482.7,1286.6 484.4,1283.6 486.0,1280.5 487.5,1277.5 489.0,1274.4 490.5,1271.4 492.1,1268.4 493.6,1265.3 494.6,1262.3 495.5,1259.3 496.4,1256.2 497.3,1253.2 498.2,1250.1 499.1,1247.1 500.0,1244.1 500.6,1241.0 501.2,1238.0"/>
<polygon fill="#dadada" opacity="1"  points="470.0,1298.0 455.0,1302.0 440.0,1318.0 430.0,1333.0 436.0,1338.0 450.0,1326.0 462.0,1314.0 472.0,1304.0"/>
<polygon fill="#e6b2b2" opacity="1"  points="470.0,1248.0 458.0,1254.0 449.0,1266.0 440.0,1282.0 441.0,1290.0 448.0,1288.0 455.0,1280.0 463.0,1284.0 470.0,1288.0 478.0,1286.0 485.0,1278.0 487.0,1264.0 483.0,1252.0"/>
<polygon fill="#cfa6dc" opacity="1"  points="470.0,1252.0 460.0,1258.0 453.0,1270.0 455.0,1278.0 463.0,1281.0 471.0,1284.0 478.0,1281.0 483.0,1272.0 484.0,1262.0 480.0,1254.0"/>
<polygon fill="#e6b2b2" opacity="1"  points="419.0,1345.0 410.0,1350.0 402.0,1362.0 396.0,1376.0 391.0,1390.0 396.0,1394.0 404.0,1384.0 412.0,1373.0 419.0,1360.0 422.0,1350.0"/>
<polygon fill="#cfa6dc" opacity="1"  points="417.0,1351.0 409.0,1356.0 403.0,1366.0 397.5,1379.0 396.0,1388.0 402.0,1383.0 410.0,1373.0 417.0,1360.0 419.0,1353.0"/>
<polygon fill="#e6b2b2" opacity="1"  points="386.0,1386.0 380.0,1396.0 373.0,1411.0 365.0,1427.0 363.0,1432.0 367.0,1432.5 377.0,1421.0 388.0,1405.0 391.0,1396.0 390.0,1388.0"/>
<polygon fill="#cfa6dc" opacity="1"  points="380.0,1404.0 376.0,1410.0 378.0,1414.0 382.0,1409.0"/>
<g stroke="#8c8c8c" stroke-opacity="0.33" stroke-width="1" fill="none">
<path d="M246.7 993.3L306.7 1030"/>
<path d="M261.7 1020L540 1070"/>
<path d="M416.7 1021.7L540 1046.7"/>
<path d="M400 1078.3L540 1100"/>
<path d="M356.7 1090L500 1116.7"/>
<path d="M330 1150L483.3 1180"/>
<path d="M380 1166.7L540 1193.3"/>
<path d="M350 1201.7L540 1226.7"/>
<path d="M363.3 1228.3L540 1236.7"/>
<path d="M380 1253.3L540 1260"/>
<path d="M228.3 1261.7L460 1360"/>
<path d="M325 1266.7L540 1360"/>
<path d="M366.7 1262.7L500 1326.7"/>
<path d="M361.7 1301.7L540 1260"/>
<path d="M256.7 1334L483.3 1440"/>
<path d="M273.3 1355L433.3 1440"/>
<path d="M211.7 1369.3L300 1440"/>
<path d="M245.7 1377.7L423.3 1420"/>
<path d="M315 1346.7L540 1393.3"/>
<path d="M271.7 1418.3L300 1440"/>
<path d="M433.3 1376.7L540 1440"/>
<path d="M400 1336.7L540 1336.7"/>
<path d="M416.7 1380L540 1383.3"/>
<path d="M520 1002.5L688.75 1022.8"/>
<path d="M520 1027.5L612.2 1041.6"/>
<path d="M520 1052.5L576.25 1054.7"/>
<path d="M587.2 1015L629.4 996.25"/>
<path d="M551.25 1061.9L670 1142.5"/>
<path d="M707.5 1047.2L935.6 1303.4"/>
<path d="M627.8 994.7L713.75 1132.2"/>
<path d="M668.4 993.1L713.75 1132.2"/>
<path d="M520 1115L784 1111.25"/>
<path d="M520 1146.25L638.75 1147.8"/>
<path d="M638.75 1147.8L791.9 1149.4"/>
<path d="M713.75 1126L927.8 1157.8"/>
<path d="M576.25 1193.1L746.6 1205.6"/>
<path d="M520 1196.25L616.9 1208.1"/>
<path d="M520 1236.9L638.75 1262.8"/>
<path d="M520 1258.75L638.75 1262.8"/>
<path d="M520 1330.6L637.2 1343.1"/>
<path d="M520 1352.5L557.5 1382.2"/>
<path d="M520 1380.6L557.5 1382.2"/>
<path d="M520 1365L552.8 1396.25"/>
<path d="M520 1421L527.8 1430.6"/>
<path d="M430 1040L560 1062"/>
<path d="M470 1060L600 1090"/>
<path d="M440 1100L560 1128"/>
<path d="M420 1125L540 1150"/>
<path d="M455 1150L575 1176"/>
<path d="M410 1190L525 1212"/>
<path d="M390 1215L520 1245"/>
<path d="M480 1215L610 1200"/>
<path d="M470 1240L600 1225"/>
<path d="M450 1290L640 1262"/>
<path d="M430 1310L560 1290"/>
<path d="M420 1345L520 1330"/>
<path d="M540 1070L620 1085"/>
<path d="M545 1100L628 1092"/>
<path d="M560 1150L640 1148"/>
<path d="M540 1180L612 1196"/>
<path d="M500 1270L560 1345"/>
<path d="M480 1290L540 1400"/>
<path d="M440 1300L520 1420"/>
<path d="M465 1335L540 1440"/>
<path d="M400 1380L470 1440"/>
<path d="M300 1300L420 1350"/>
<path d="M330 1240L450 1290"/>
<path d="M300 1180L470 1215"/>
<path d="M380 1130L500 1150"/>
<path d="M624.7 1061.9 C 700 1090, 800 1108, 920 1107.8"/><path d="M649.7 1086.9 C 740 1125, 840 1152, 927.8 1157.8"/><path d="M613.75 1194.7 C 635 1240, 648 1280, 652.8 1311.9"/>
</g>
<path d="M250 1092.8 L867.8 1361.3" stroke="#ff1e1e" stroke-width="1.6" fill="none"/>
<g stroke="#1a1a1a" stroke-width="1.2"><path d="M504 1068.4L601.6 1093.7"/><path d="M515 1073L601.6 1093.7"/><path d="M509.7 1096.3L595 1120.7"/><path d="M516 1093L595 1120.7"/><path d="M506.9 1112.4L626.9 1149.4"/><path d="M496.6 1121.25L594 1155"/><path d="M477.8 1135.3L572.5 1175.25"/><path d="M471.25 1138.1L572.5 1175.25"/><path d="M475 1142.8L572.5 1175.25"/><path d="M481.6 1168.1L572.5 1175.25"/><path d="M465.6 1183.1L564 1229"/><path d="M477.8 1194.4L564 1229"/></g>
<g fill="#000"><circle cx="601.6" cy="1093.7" r="1.6"/><circle cx="595" cy="1120.7" r="1.6"/><circle cx="626.9" cy="1149.4" r="1.6"/><circle cx="594" cy="1155" r="1.6"/><circle cx="572.5" cy="1175.25" r="1.6"/><circle cx="564" cy="1229" r="1.6"/></g>
<g fill="#1fb4f2"><circle cx="544.5" cy="1082" r="1.9"/><circle cx="551" cy="1084.5" r="1.9"/><circle cx="556.5" cy="1084.5" r="1.9"/><circle cx="561.5" cy="1085.5" r="1.9"/><circle cx="566" cy="1083.5" r="1.9"/><circle cx="586.5" cy="1090.5" r="1.9"/><circle cx="530" cy="1103.5" r="1.9"/><circle cx="537" cy="1104.5" r="1.9"/><circle cx="540.5" cy="1101.5" r="1.9"/><circle cx="546" cy="1106.5" r="1.9"/><circle cx="551" cy="1105" r="1.9"/><circle cx="554" cy="1109" r="1.9"/><circle cx="557.5" cy="1107.5" r="1.9"/><circle cx="561" cy="1111" r="1.9"/><circle cx="562.5" cy="1109" r="1.9"/><circle cx="529" cy="1119" r="1.9"/><circle cx="573.5" cy="1134" r="1.9"/><circle cx="578" cy="1135.5" r="1.9"/><circle cx="506.5" cy="1125" r="1.9"/><circle cx="512.5" cy="1128" r="1.9"/><circle cx="519.5" cy="1129.5" r="1.9"/><circle cx="529" cy="1134.5" r="1.9"/><circle cx="501" cy="1145.5" r="1.9"/><circle cx="500.5" cy="1149" r="1.9"/><circle cx="508.5" cy="1155" r="1.9"/><circle cx="512" cy="1156.5" r="1.9"/><circle cx="516" cy="1154.5" r="1.9"/><circle cx="521" cy="1155.5" r="1.9"/><circle cx="530.5" cy="1163" r="1.9"/><circle cx="541.5" cy="1164.5" r="1.9"/><circle cx="543" cy="1162.5" r="1.9"/><circle cx="473.5" cy="1187" r="1.9"/><circle cx="478.5" cy="1195.5" r="1.9"/><circle cx="497.5" cy="1198" r="1.9"/><circle cx="501" cy="1200.5" r="1.9"/><circle cx="504.5" cy="1205" r="1.9"/><circle cx="507.5" cy="1206.5" r="1.9"/><circle cx="513.5" cy="1206.5" r="1.9"/><circle cx="520" cy="1212" r="1.9"/><circle cx="559" cy="1226.5" r="1.9"/></g>
<g fill="#ffff1e"><circle cx="541.6" cy="1105.9" r="2.6"/><circle cx="575.7" cy="1115" r="2.6"/><circle cx="521.5" cy="1117.5" r="2.6"/><circle cx="510.6" cy="1126.3" r="2.6"/><circle cx="524.7" cy="1161" r="2.6"/><circle cx="492.8" cy="1196.25" r="2.6"/><circle cx="499.4" cy="1203.75" r="2.6"/><circle cx="508.4" cy="1207.5" r="2.6"/></g>
<circle cx="494" cy="1201.9" r="3.2" fill="#ffa81e"/>
<g fill="#fb1d1d"><ellipse cx="531.25" cy="1078.4" rx="4" ry="4.4"/><ellipse cx="540.8" cy="1075.2" rx="4.2" ry="4.5"/><ellipse cx="554.9" cy="1079.7" rx="4" ry="4.5"/><ellipse cx="522.6" cy="1100.2" rx="5.6" ry="4.8"/><ellipse cx="500.7" cy="1170.6" rx="3.8" ry="4.2"/></g>
<ellipse cx="513" cy="1171.9" rx="4.3" ry="4.7" fill="#fb1dfb"/>
<text font-size="22.8" font-weight="bold" fill="#f01010" textLength="92.5" lengthAdjust="spacingAndGlyphs" transform="translate(297.5,1107) rotate(22.3)">Section 7</text>
</g>
</g>
<g fill="#e3e3e3" stroke="#e3e3e3"><text x="39" y="982.5" font-size="27.5" stroke-width="0.6" textLength="38" lengthAdjust="spacingAndGlyphs">ES</text>
<g stroke-width="2.2" stroke-linecap="round" transform="translate(26,972.5)"><path d="M4.00 0.00 L9.50 0.00"/><path d="M2.83 2.83 L6.72 6.72"/><path d="M0.00 4.00 L0.00 9.50"/><path d="M-2.83 2.83 L-6.72 6.72"/><path d="M-4.00 0.00 L-9.50 0.00"/><path d="M-2.83 -2.83 L-6.72 -6.72"/><path d="M-0.00 -4.00 L-0.00 -9.50"/><path d="M2.83 -2.83 L6.72 -6.72"/></g></g>
</g>
</svg></body></html>
